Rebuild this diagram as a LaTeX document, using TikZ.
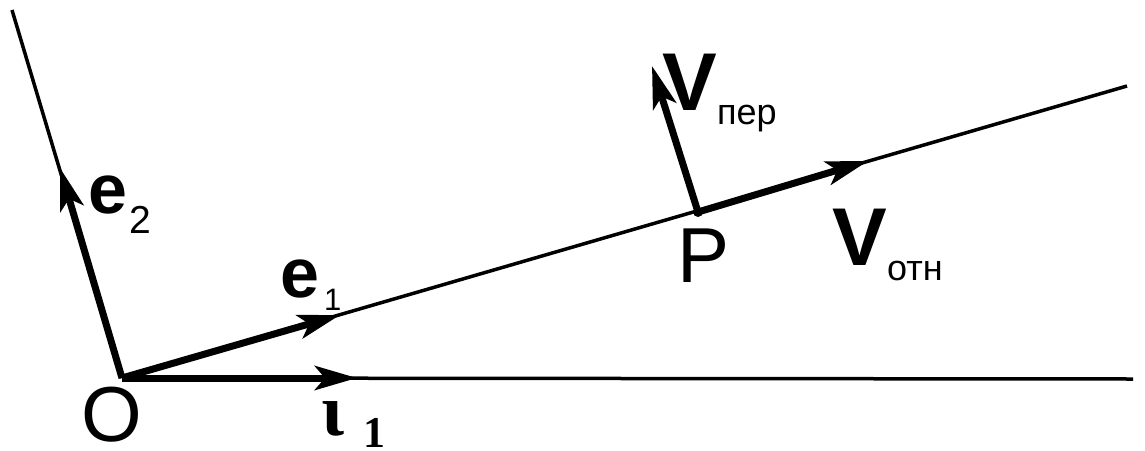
\documentclass[tikz,border=0pt]{standalone}
\usepackage{fontspec}
\setmainfont{Liberation Sans}
\newfontfamily\serifb{Liberation Serif}
\usetikzlibrary{arrows.meta}
\begin{document}
\begin{tikzpicture}[x=1pt,y=-1pt,
  axis/.style={line width=3.5pt},
  vec/.style={line width=7pt, line join=round, -{Stealth[length=42pt,width=24pt,inset=10pt]}},
  lbl/.style={inner sep=0pt, anchor=base west},
  big/.style={font=\fontsize{78}{78}\selectfont},
  bigb/.style={font=\bfseries\fontsize{82}{82}\selectfont},
  eb/.style={font=\bfseries\fontsize{70}{70}\selectfont},
  sub/.style={font=\fontsize{36}{36}\selectfont}]
\useasboundingbox (0,0) rectangle (1145,450);
\coordinate (O) at (122,378);
\coordinate (Hend) at (1133,379);
\coordinate (Lend) at (1127,86);
\coordinate (Vend) at (12,10);
\coordinate (P) at (698,212);
\coordinate (i1) at (357,378);
\coordinate (e1) at (340,315);
\coordinate (e2) at (60,168);
\coordinate (votn) at (868,161);
\coordinate (vper) at (652,66);
% thin axes
\draw[axis] (O) -- (Hend);
\draw[axis] (O) -- (Lend);
\draw[axis] (O) -- (Vend);
% vectors
\draw[vec] (O) -- (i1);
\draw[vec] (O) -- (e1);
\draw[vec] (O) -- (e2);
\draw[vec] (P) -- (votn);
\draw[vec] (P) -- (vper);
\fill (P) circle (5pt);
% labels
\node[lbl, big] (Olab) at (81,441) {O};
\node[lbl, big] (Plab) at (677,282) {P};
\node[lbl, eb] (e1lab) at (280,297) {e};
\node[lbl, font=\fontsize{31}{31}\selectfont] (e1sub) at (324,310) {1};
\node[lbl, eb] (e2lab) at (88,213) {e};
\node[lbl, font=\fontsize{39}{39}\selectfont] (e2sub) at (129,233) {2};
\node[lbl, bigb] (vperlab) at (662,110) {V};
\node[lbl, sub] (vpersub) at (717,124) {пер};
\node[lbl, bigb] (votnlab) at (832,265) {V};
\node[lbl, sub] (votnsub) at (887,280) {отн};
\node[lbl, font=\serifb\bfseries\fontsize{74}{74}\selectfont] (i1lab) at (321,435) {ι};
\node[lbl, font=\serifb\bfseries\fontsize{44}{44}\selectfont] (i1sub) at (363,447) {1};
\end{tikzpicture}
\end{document}
